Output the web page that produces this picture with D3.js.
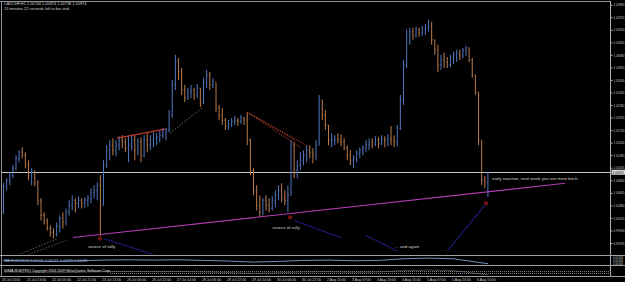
<!DOCTYPE html>
<html><head><meta charset="utf-8">
<script src="https://cdn.jsdelivr.net/npm/d3@7"></script>
<style>body{margin:0;background:#000}svg{display:block}text{font-family:Arial,"Liberation Sans",sans-serif}</style>
</head><body><script>
// ---------------- DATA ----------------
var symbolTitle = 'CADCHF,H1  1.00744 1.00974 1.00738 1.00974'
var timerText = '13 minutes 22 seconds left to bar end'
var currentPrice = 1.00974

var highs = [1.00776,1.00866,1.00974,1.01100,1.01280,1.01370,1.01424,1.01334,1.01190,1.01046,
  1.01010,1.00830,1.00506,1.00254,1.00146,1.00020,0.99966,1.00074,1.00200,1.00254,
  1.00326,1.00470,1.00560,1.00506,1.00542,1.00506,1.00524,1.00560,1.00686,1.00740,
  1.00794,1.00920,1.01190,1.01460,1.01550,1.01586,1.01550,1.01622,1.01640,1.01586,
  1.01622,1.01658,1.01640,1.01586,1.01604,1.01640,1.01676,1.01640,1.01694,1.01676,
  1.01730,1.01766,1.01766,1.02090,1.02630,1.03080,1.03026,1.02846,1.02540,1.02486,
  1.02540,1.02486,1.02558,1.02486,1.02666,1.02810,1.02774,1.02666,1.02576,1.02180,
  1.02126,1.01946,1.01910,1.01946,1.01982,1.01946,1.02000,1.01964,1.02054,1.01586,
  1.01046,1.00740,1.00560,1.00506,1.00560,1.00506,1.00542,1.00650,1.00740,1.00776,
  1.00650,1.00740,1.01550,1.01514,1.01190,1.01334,1.01370,1.01460,1.01460,1.01406,
  1.01550,1.02360,1.02270,1.02090,1.01820,1.01676,1.01640,1.01676,1.01658,1.01586,
  1.01460,1.01370,1.01280,1.01370,1.01424,1.01460,1.01550,1.01586,1.01586,1.01622,
  1.01604,1.01640,1.01622,1.01658,1.01802,1.01640,1.01820,1.02360,1.02990,1.03530,
  1.03566,1.03566,1.03584,1.03566,1.03602,1.03638,1.03710,1.03674,1.03350,1.03260,
  1.03080,1.03116,1.03044,1.03080,1.03134,1.03170,1.03170,1.03206,1.03242,1.03206,
  1.03026,1.02720,1.02414,1.01550,1.00902,1.00974]
var lows = [1.00236,1.00650,1.00740,1.00866,1.01010,1.01154,1.01226,1.01046,1.00830,1.00740,
  1.00722,1.00380,1.00110,1.00038,0.99930,0.99822,0.99786,0.99822,0.99894,0.99966,
  1.00020,1.00200,1.00290,1.00254,1.00326,1.00326,1.00344,1.00362,1.00416,1.00506,
  1.00470,0.99840,1.00380,1.01046,1.01190,1.01280,1.01262,1.01370,1.01406,1.01334,
  1.01154,1.01370,1.01190,1.01280,1.01154,1.01244,1.01334,1.01370,1.01424,1.01460,
  1.01514,1.01586,1.01550,1.01694,1.01946,1.02450,1.02630,1.02360,1.02234,1.02270,
  1.02306,1.02270,1.02306,1.02144,1.02198,1.02486,1.02450,1.02486,1.02054,1.01910,
  1.01820,1.01730,1.01730,1.01784,1.01820,1.01802,1.01838,1.01820,1.01460,1.00920,
  1.00560,1.00290,1.00164,1.00200,1.00290,1.00254,1.00290,1.00344,1.00470,1.00434,
  1.00380,1.00254,1.00560,1.00866,1.00866,1.01010,1.01100,1.01154,1.01226,1.01136,
  1.01190,1.01460,1.01910,1.01730,1.01460,1.01424,1.01460,1.01496,1.01442,1.01370,
  1.01190,1.01100,1.01046,1.01154,1.01226,1.01280,1.01334,1.01370,1.01406,1.01442,
  1.01406,1.01460,1.01424,1.01442,1.01460,1.01424,1.01442,1.01730,1.02180,1.02846,
  1.03260,1.03350,1.03386,1.03404,1.03422,1.03440,1.03494,1.03260,1.03080,1.02774,
  1.02810,1.02846,1.02846,1.02864,1.02918,1.02954,1.02990,1.03026,1.03062,1.02954,
  1.02666,1.02360,1.01460,1.00740,1.00686,1.00524]
var closes = [1.00722,1.00830,1.00920,1.01046,1.01226,1.01334,1.01280,1.01100,1.00920,1.00974,
  1.00794,1.00470,1.00200,1.00110,0.99966,0.99894,0.99858,1.00002,1.00146,1.00074,
  1.00254,1.00380,1.00470,1.00416,1.00470,1.00434,1.00470,1.00506,1.00614,1.00650,
  1.00740,1.00380,1.01100,1.01370,1.01460,1.01370,1.01460,1.01550,1.01514,1.01406,
  1.01460,1.01550,1.01370,1.01514,1.01280,1.01550,1.01460,1.01550,1.01586,1.01604,
  1.01640,1.01694,1.01730,1.02000,1.02540,1.02954,1.02774,1.02450,1.02306,1.02414,
  1.02450,1.02360,1.02486,1.02234,1.02594,1.02720,1.02540,1.02594,1.02126,1.02000,
  1.01910,1.01802,1.01838,1.01874,1.01910,1.01892,1.01946,1.01910,1.01550,1.01010,
  1.00650,1.00380,1.00254,1.00470,1.00380,1.00326,1.00470,1.00560,1.00650,1.00506,
  1.00470,1.00560,1.01460,1.01010,1.01100,1.01190,1.01280,1.01370,1.01334,1.01280,
  1.01460,1.02270,1.02000,1.01820,1.01550,1.01550,1.01586,1.01550,1.01514,1.01406,
  1.01280,1.01190,1.01226,1.01316,1.01370,1.01406,1.01460,1.01514,1.01478,1.01550,
  1.01496,1.01586,1.01550,1.01586,1.01550,1.01514,1.01766,1.02270,1.02900,1.03440,
  1.03494,1.03440,1.03530,1.03476,1.03530,1.03566,1.03602,1.03350,1.03170,1.02900,
  1.02990,1.02954,1.02900,1.03026,1.03080,1.03116,1.03080,1.03170,1.03206,1.02990,
  1.02720,1.02414,1.01550,1.00830,1.00794,1.00974]

var priceTicks = ['1.03980','1.03755','1.03530','1.03305','1.03080','1.02855','1.02630','1.02405',
  '1.02180','1.01955','1.01730','1.01505','1.01280','1.01055','1.00830','1.00605','1.00380',
  '1.00155','0.99930','0.99705']

var timeLabels = ['20 Jul 2010','21 Jul 13:00','22 Jul 05:00','22 Jul 21:00','23 Jul 13:00',
  '26 Jul 06:00','26 Jul 22:00','27 Jul 14:00','28 Jul 06:00','28 Jul 22:00','29 Jul 14:00',
  '30 Jul 06:00','30 Jul 22:00','2 Aug 15:00','3 Aug 07:00','3 Aug 23:00','4 Aug 15:00',
  '5 Aug 07:00','5 Aug 23:00','6 Aug 15:00']
var barsPerLabel = 8

// sub-window indicator, sampled every 8 bars (last one at bar 155)
var oscBars = [0,8,16,24,32,40,48,56,64,72,80,88,96,104,112,120,128,136,144,152,155]
var oscValues = [0.1,0.0,-0.2,0.0,0.2,0.3,0.2,0.3,0.1,-0.1,-0.4,-0.2,0.1,0.2,0.0,0.1,0.6,0.8,0.6,-0.5,-0.9]
var oscLabels = ['0.01940', '0.00545', '0.00000']

// drawn objects: [bar index, price]
var trendLine = [[22.2, 0.99804], [179.7, 1.00776]]
var redLine = [[36.3, 1.01586], [51.7, 1.01748]]
var greyDotted = [[53.3, 1.01676], [63.9, 1.02144]]
var redFan = [
  [[77.9, 1.02054], [93.3, 1.01550]],
  [[77.9, 1.02054], [94.9, 1.01424]],
  [[78.6, 1.02036], [97.4, 1.01442]]]
var leftDotted = [
  [[5.0, 0.99500], [17.5, 0.99786]],
  [[8.0, 0.99500], [20.0, 0.99750]]]
var navyLines = [
  [[32.0, 0.99786], [48.0, 0.99500]],
  [[93.0, 1.00110], [108.0, 0.99800]],
  [[116.0, 0.99840], [126.0, 0.99560]],
  [[142.0, 0.99560], [154.0, 1.00380]]]
var arrows = [[30.9, 0.99786], [91.7, 1.00164], [154.4, 1.00416]]
var notes = [
  {i: 27.0, p: 0.99651, text: 'source of rally'},
  {i: 86.0, p: 0.99984, text: 'source of rally'},
  {i: 125.3, p: 0.99651, text: '... and again'},
  {i: 156.3, p: 1.00866, text: 'early reaction, next week you are mine bitch'}]

// ---------------- SVG ----------------
var width = 625, height = 282
var axisX = 610.5, mainBottom = 254.5

var svg = d3.select('body').append('svg')
  .attr('width', width).attr('height', height)
svg.append('rect').attr('width', width).attr('height', height).attr('fill', '#000')

var x = d3.scaleLinear().domain([0, 155]).range([3.5, 487.9])
var y = d3.scaleLinear().domain([0.99705, 1.03980]).range([243, 4.7])

var clip = svg.append('clipPath').attr('id', 'main')
clip.append('rect').attr('x', 2).attr('y', 2).attr('width', axisX - 2).attr('height', mainBottom - 2)
var plot = svg.append('g').attr('clip-path', 'url(#main)')

// bid line
plot.append('line')
  .attr('x1', 0).attr('x2', axisX)
  .attr('y1', Math.round(y(currentPrice)) + 0.5).attr('y2', Math.round(y(currentPrice)) + 0.5)
  .attr('stroke', '#c8c8c8').attr('stroke-width', 1)

// bars
var bars = highs.map(function(h, i) {
  return {i: i, h: h, l: lows[i], c: closes[i], o: i ? closes[i - 1] : lows[i]}
})
var barG = plot.append('g')
bars.forEach(function(d) {
  var col = d.c >= d.o ? '#4d72b6' : '#b27748'
  barG.append('line').attr('x1', x(d.i)).attr('x2', x(d.i))
    .attr('y1', y(d.h)).attr('y2', y(d.l)).attr('stroke', col).attr('stroke-width', 1.05)
  barG.append('line').attr('x1', x(d.i) - 0.9).attr('x2', x(d.i))
    .attr('y1', y(d.o)).attr('y2', y(d.o)).attr('stroke', col).attr('stroke-width', 0.9)
  barG.append('line').attr('x1', x(d.i)).attr('x2', x(d.i) + 0.9)
    .attr('y1', y(d.c)).attr('y2', y(d.c)).attr('stroke', col).attr('stroke-width', 0.9)
})

// objects
function seg(pts, col, dash, w) {
  plot.append('line')
    .attr('x1', x(pts[0][0])).attr('y1', y(pts[0][1]))
    .attr('x2', x(pts[1][0])).attr('y2', y(pts[1][1]))
    .attr('stroke', col).attr('stroke-width', w || 1)
    .attr('stroke-dasharray', dash || null)
}
seg(trendLine, '#b03cb0', null, 1.1)
seg(redLine, '#b83a2c', null, 1.2)
seg(greyDotted, '#6a6a6a', '1.5,1.5')
redFan.forEach(function(s) { seg(s, '#a8382c', '1.5,1.2') })
leftDotted.forEach(function(s) { seg(s, '#5a5a5a', '1.5,1.5') })
navyLines.forEach(function(s) { seg(s, '#1c1c78', null, 1.1) })

arrows.forEach(function(a) {
  var g = plot.append('g').attr('transform', 'translate(' + x(a[0]) + ',' + y(a[1]) + ')')
  g.append('circle').attr('r', 1.6).attr('fill', 'none').attr('stroke', '#c02020').attr('stroke-width', 0.9)
  g.append('line').attr('x1', 0).attr('x2', 0).attr('y1', -1.2).attr('y2', 1.2).attr('stroke', '#c02020').attr('stroke-width', 0.7)
})

plot.selectAll('text.note').data(notes).enter().append('text')
  .attr('class', 'note')
  .attr('x', function(d) { return x(d.i) }).attr('y', function(d) { return y(d.p) })
  .attr('dy', '0.35em').attr('font-size', 4.4).attr('fill', '#d0d0d0')
  .text(function(d) { return d.text })

// header
svg.append('text').attr('x', 4).attr('y', 5).attr('font-size', 3.9).attr('fill', '#d0d0d0').text(symbolTitle)
svg.append('text').attr('x', 4).attr('y', 9.5).attr('font-size', 3.9).attr('fill', '#d0d0d0').text(timerText)

// frame
svg.append('line').attr('x1', 0).attr('x2', axisX).attr('y1', 1.5).attr('y2', 1.5).attr('stroke', '#909090')
svg.append('line').attr('x1', 1.5).attr('x2', 1.5).attr('y1', 1).attr('y2', 276).attr('stroke', '#909090')
svg.append('line').attr('x1', axisX).attr('x2', axisX).attr('y1', 1).attr('y2', 276).attr('stroke', '#b0b0b0')

// price axis
var yAxis = d3.axisRight(y).tickValues(priceTicks.map(Number))
  .tickFormat(function(d, i) { return priceTicks[i] }).tickSize(2).tickPadding(1)
var ya = svg.append('g').attr('transform', 'translate(' + axisX + ',0)').call(yAxis)
ya.select('.domain').remove()
ya.selectAll('line').attr('stroke', '#b0b0b0')
ya.selectAll('text').attr('font-size', 3.6).attr('fill', '#c8c8c8')
  .attr('textLength', 11).attr('lengthAdjust', 'spacingAndGlyphs')

// current price box
var cy = y(currentPrice)
svg.append('rect').attr('x', axisX + 1).attr('y', cy - 2.5).attr('width', 13.5).attr('height', 5)
  .attr('fill', '#d8d8d8')
svg.append('text').attr('x', axisX + 2).attr('y', cy).attr('dy', '0.35em').attr('font-size', 3.6)
  .attr('textLength', 11).attr('lengthAdjust', 'spacingAndGlyphs')
  .attr('fill', '#000').text(currentPrice.toFixed(5))

// indicator windows
var sepY = [255.5, 265.5, 276.5]
sepY.forEach(function(s) {
  svg.append('line').attr('x1', 0).attr('x2', width).attr('y1', s).attr('y2', s)
    .attr('stroke', '#a0a0a0').attr('stroke-width', 1.2)
})
var oy = d3.scaleLinear().domain([-1, 1]).range([264, 257.5])
var oscLine = d3.line().x(function(d, k) { return x(oscBars[k]) }).y(function(d) { return oy(d) })
svg.append('path').datum(oscValues).attr('d', oscLine).attr('fill', 'none')
  .attr('stroke', '#7f9fcf').attr('stroke-width', 0.9)
var oy2 = d3.scaleLinear().domain([-1, 1]).range([275, 269.5])
svg.append('path').datum(oscValues).attr('d', oscLine.y(function(d) { return oy2(d) }))
  .attr('fill', 'none').attr('stroke', '#9a9a9a').attr('stroke-width', 0.8).attr('stroke-dasharray', '1,1')
svg.append('text').attr('x', 4).attr('y', 261.5).attr('font-size', 3.6).attr('fill', '#9fb8d8')
  .text('MACD(12,26,9) 0.00109 -0.00072 -0.00095 0.00036')
svg.append('text').attr('x', 4).attr('y', 271.5).attr('font-size', 3.6).attr('fill', '#e0e0e0')
  .text('90MA,RLB(TFD) Copyright 2004-2009 MetaQuotes Software Corp.')
;[271.5, 273.5].forEach(function(s) {
  svg.append('line').attr('x1', 110).attr('x2', axisX).attr('y1', s).attr('y2', s)
    .attr('stroke', '#7a7a7a').attr('stroke-dasharray', '1,1')
})
svg.selectAll('text.osc').data(oscLabels).enter().append('text')
  .attr('x', axisX + 2.5).attr('y', function(d, k) { return 258.5 + k * 3 })
  .attr('font-size', 3).attr('fill', '#c8c8c8')
  .attr('textLength', 10).attr('lengthAdjust', 'spacingAndGlyphs')
  .text(function(d) { return d })

// time axis
svg.selectAll('text.time').data(timeLabels).enter().append('text')
  .attr('class', 'time')
  .attr('x', function(d, k) { return x(k * barsPerLabel) - 1.5 })
  .attr('y', 281).attr('font-size', 3.5).attr('fill', '#c8c8c8')
  .text(function(d) { return d })
</script></body></html>
